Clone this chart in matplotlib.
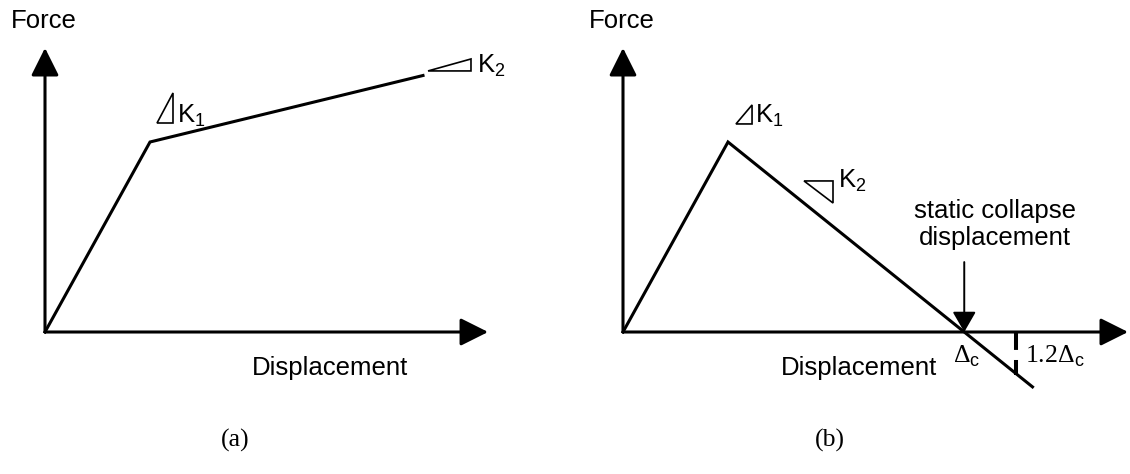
import matplotlib
matplotlib.use("Agg")
import matplotlib.pyplot as plt
from matplotlib.patches import Polygon

plt.rcParams['font.family'] = ['Liberation Sans', 'DejaVu Sans']
plt.rcParams['mathtext.fontset'] = 'custom'
plt.rcParams['mathtext.rm'] = 'Liberation Serif'
plt.rcParams['mathtext.sf'] = 'Liberation Sans'

# (a) bilinear backbone with positive post-yield stiffness
disp_a = [0.0, 1.0, 3.6]
force_a = [0.0, 1.0, 1.35]

# (b) backbone with negative post-yield stiffness down to 1.2 x collapse displacement
delta_c = 3.25
disp_b = [0.0, 1.0, 1.2 * delta_c]
force_b = [0.0, 1.0, 1.0 - (1.2 * delta_c - 1.0) / (delta_c - 1.0)]
dim_tick_x = 3.74

W, H, DPI = 1130, 474, 100
PX_X, PX_Y = 105.0, 190.0   # pixels per data unit
ORIGIN_Y = 332              # origin row (from top) for both panels

fig = plt.figure(figsize=(W / DPI, H / DPI), dpi=DPI)


def make_axes(origin_x, xlim, ylim):
    left = origin_x + xlim[0] * PX_X
    bottom = (H - ORIGIN_Y) + ylim[0] * PX_Y
    ax = fig.add_axes([left / W, bottom / H,
                       (xlim[1] - xlim[0]) * PX_X / W,
                       (ylim[1] - ylim[0]) * PX_Y / H])
    ax.set_xlim(*xlim)
    ax.set_ylim(*ylim)
    ax.axis('off')
    return ax


def draw_axes(ax, x_tip, y_tip):
    style = dict(arrowstyle='-|>,head_length=1.7,head_width=0.85',
                 mutation_scale=10, lw=2.2, color='k', shrinkA=0, shrinkB=0)
    ax.annotate('', xy=(x_tip, 0), xytext=(0, 0), arrowprops=style,
                annotation_clip=False)
    ax.annotate('', xy=(0, y_tip), xytext=(0, 0), arrowprops=style,
                annotation_clip=False)
    ax.text(-0.014, 1.60, 'Force', fontsize=18.5, ha='center', va='baseline')


def slope_mark(ax, pts, label, lx, ly):
    ax.add_patch(Polygon(pts, closed=True, fill=False, lw=1.2, ec='k',
                         joinstyle='miter', clip_on=False))
    ax.text(lx, ly, label, fontsize=18.5, ha='left', va='baseline')


ax1 = make_axes(45, (-0.4, 4.4), (-0.7, 1.75))
ax2 = make_axes(623, (-0.4, 4.85), (-0.7, 1.75))

# panel (a)
draw_axes(ax1, 4.22, 1.495)
ax1.plot(disp_a, force_a, color='k', lw=2.2, solid_joinstyle='miter',
         clip_on=False)
slope_mark(ax1, [(1.067, 1.10), (1.219, 1.258), (1.219, 1.10)],
           r'K$_\mathsf{1}$', 1.257, 1.105)
slope_mark(ax1, [(3.648, 1.374), (4.057, 1.437), (4.057, 1.374)],
           r'K$_\mathsf{2}$', 4.114, 1.368)
ax1.text(1.97, -0.226, 'Displacement', fontsize=18.5, ha='left',
         va='baseline')

# panel (b)
draw_axes(ax2, 4.81, 1.495)
ax2.plot(disp_b, force_b, color='k', lw=2.2, solid_joinstyle='miter',
         clip_on=False)
slope_mark(ax2, [(1.076, 1.095), (1.229, 1.195), (1.229, 1.095)],
           r'K$_\mathsf{1}$', 1.257, 1.105)
slope_mark(ax2, [(1.724, 0.795), (2.0, 0.795), (2.0, 0.679)],
           r'K$_\mathsf{2}$', 2.048, 0.763)
ax2.text(1.5, -0.226, 'Displacement', fontsize=18.5, ha='left',
         va='baseline')

ax2.annotate('', xy=(delta_c, 0.0), xytext=(delta_c, 0.368),
             arrowprops=dict(arrowstyle='-|>,head_length=1.25,head_width=0.72',
                             mutation_scale=10, lw=1.4, color='k',
                             shrinkA=0, shrinkB=0),
             annotation_clip=False)
ax2.text(3.543, 0.43, 'static collapse\ndisplacement', fontsize=18.5,
         ha='center', va='bottom', linespacing=1.15)

ax2.plot([dim_tick_x, dim_tick_x], [-0.005, -0.226], color='k', lw=2.9,
         linestyle=(0, (4.2, 2.5)), solid_capstyle='butt',
         dash_capstyle='butt', clip_on=False)
ax2.text(delta_c - 0.105, -0.158, r'$\Delta_\mathsf{c}$', fontsize=18.5,
         ha='left', va='baseline')
ax2.text(3.829, -0.158, r'1.2$\Delta_\mathsf{c}$', fontsize=18.5,
         family='Liberation Serif', ha='left', va='baseline')

# sub-figure captions
fig.text(235 / W, 1 - 440 / H, '(a)', fontsize=18.5,
         family='Liberation Serif', ha='center', va='center')
fig.text(830 / W, 1 - 440 / H, '(b)', fontsize=18.5,
         family='Liberation Serif', ha='center', va='center')

fig.savefig('out.png', dpi=DPI)
